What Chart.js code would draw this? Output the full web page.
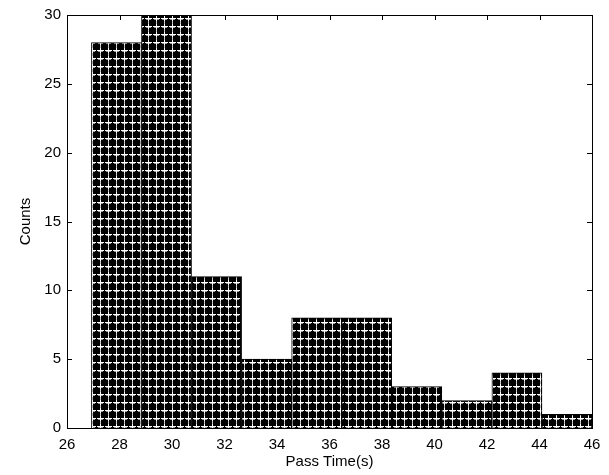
<!DOCTYPE html>
<html><head><meta charset="utf-8">
<script src="https://cdn.jsdelivr.net/npm/chart.js@4/dist/chart.umd.min.js"></script>
<style>html,body{margin:0;padding:0;background:#fff;}#wrap{width:609px;height:475px;}</style>
</head><body><div id="wrap"><canvas id="c" width="609" height="475"></canvas></div>
<script>
const binCenters = [27.884, 29.791, 31.698, 33.605, 35.512, 37.419, 39.326, 41.233, 43.140, 45.047];
const counts = [28, 30, 11, 5, 8, 8, 3, 2, 4, 1];
const xTicks = [26, 28, 30, 32, 34, 36, 38, 40, 42, 44, 46];
const yTicks = [0, 5, 10, 15, 20, 25, 30];
const xTitle = 'Pass Time(s)';
const yTitle = 'Counts';

function makePattern() {
  const p = document.createElement('canvas');
  p.width = 8; p.height = 8;
  const g = p.getContext('2d');
  g.fillStyle = '#000'; g.fillRect(0, 0, 8, 8);
  g.fillStyle = '#c4c4c4'; g.fillRect(4, 0, 1, 8);
  g.fillStyle = '#ffffff'; g.fillRect(1, 2, 7, 1);
  g.fillStyle = '#9a9a9a'; g.fillRect(2, 3, 5, 1);
  g.fillStyle = '#ffffff'; g.fillRect(4, 0, 1, 5);
  return document.getElementById('c').getContext('2d').createPattern(p, 'repeat');
}

const frame = {
  id: 'frame',
  beforeDatasetsDraw(chart) {
    const ctx = chart.ctx, a = chart.chartArea;
    const xs = chart.scales.x, ys = chart.scales.y;
    ctx.save();
    ctx.strokeStyle = '#000'; ctx.lineWidth = 1;
    ctx.beginPath();
    xTicks.forEach(v => {
      const px = Math.round(xs.getPixelForValue(v)) + 0.5;
      ctx.moveTo(px, a.bottom); ctx.lineTo(px, a.bottom - 5);
      ctx.moveTo(px, a.top); ctx.lineTo(px, a.top + 5);
    });
    yTicks.forEach(v => {
      const py = Math.round(ys.getPixelForValue(v)) + 0.5;
      ctx.moveTo(a.left, py); ctx.lineTo(a.left + 5, py);
      ctx.moveTo(a.right, py); ctx.lineTo(a.right - 5, py);
    });
    ctx.stroke();
    ctx.restore();
  },
  afterDatasetsDraw(chart) {
    const ctx = chart.ctx, a = chart.chartArea;
    ctx.save();
    ctx.strokeStyle = '#000'; ctx.lineWidth = 1;
    ctx.strokeRect(Math.round(a.left) + 0.5, Math.round(a.top) + 0.5,
      Math.round(a.right - a.left), Math.round(a.bottom - a.top));
    ctx.restore();
  }
};

const font = { family: 'Liberation Sans, Arial, sans-serif', size: 15 };

new Chart(document.getElementById('c'), {
  type: 'bar',
  data: {
    datasets: [{
      data: binCenters.map((x, i) => ({ x: x, y: counts[i] })),
      backgroundColor: makePattern(),
      borderColor: '#000',
      borderWidth: 1,
      barPercentage: 1,
      categoryPercentage: 1
    }]
  },
  options: {
    responsive: false,
    devicePixelRatio: 1,
    animation: false,
    layout: { padding: { left: 0, right: 17, top: 15, bottom: 0 } },
    plugins: { legend: { display: false }, tooltip: { enabled: false } },
    scales: {
      x: {
        type: 'linear', min: 26, max: 46, offset: false,
        afterBuildTicks: s => { s.ticks = xTicks.map(v => ({ value: v })); },
        afterFit: s => { s.height = 47; },
        grid: { display: false, drawTicks: false },
        border: { display: false },
        ticks: { color: '#000', font: font, padding: 8, maxRotation: 0, autoSkip: false },
        title: { display: true, text: xTitle, color: '#000', font: font, padding: { top: 0, bottom: 4 } }
      },
      y: {
        type: 'linear', min: 0, max: 30,
        afterBuildTicks: s => { s.ticks = yTicks.map(v => ({ value: v })); },
        afterFit: s => { s.width = 67; },
        grid: { display: false, drawTicks: false },
        border: { display: false },
        ticks: { color: '#000', font: font, padding: 6 },
        title: { display: true, text: yTitle, color: '#000', font: font, padding: { top: 17, bottom: 0 } }
      }
    }
  },
  plugins: [frame]
});
</script></body></html>
